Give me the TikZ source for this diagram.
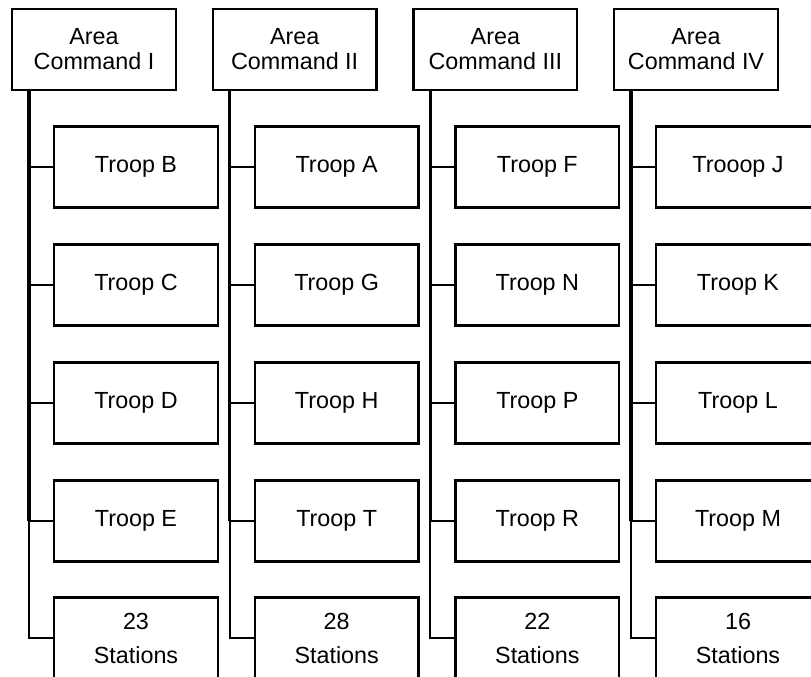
\documentclass[tikz,border=0pt]{standalone}
\usepackage{fontspec}
\setmainfont{Liberation Sans}
\usetikzlibrary{positioning,calc}

\tikzset{
  cmdbox/.style={draw, line width=1.8pt, minimum width=122.7pt, minimum height=60.5pt,
    inner sep=0pt, align=center, font=\fontsize{17.5}{18.75}\selectfont},
  troopbox/.style={cmdbox},
  stnbox/.style={cmdbox, font=\fontsize{17.5}{25.5}\selectfont},
  trunk/.style={line width=2.5pt},
  branch/.style={line width=1.5pt},
}

\begin{document}
\begin{tikzpicture}[x=0.75pt,y=-0.75pt]
  \clip (0,0) rectangle (811,677);
  \useasboundingbox (0,0) rectangle (811,677);

  % one column per area command
  \foreach \cmd/\ta/\tb/\tc/\td/\num [count=\i from 0] in {%
      I/Troop B/Troop C/Troop D/Troop E/23,
      II/Troop A/Troop G/Troop H/Troop T/28,
      III/Troop F/Troop N/Troop P/Troop R/22,
      IV/Trooop J/Troop K/Troop L/Troop M/16}{
    \node[cmdbox] (cmd\i) at (94+200.67*\i, 49.5) {Area\\Command \cmd};
    \foreach \tname [count=\k from 0] in {\ta,\tb,\tc,\td}
      \node[troopbox] (tr\i-\k) at (136+200.67*\i, 167+118*\k) {\tname};
    \node[stnbox] (st\i) at (136+200.67*\i, 638) {\num\\Stations};

    % trunk and branches
    \coordinate (tk\i) at ($(cmd\i.south west)+(18,0)$);
    \draw[trunk] (tk\i) -- (tk\i |- tr\i-3.west);
    \foreach \k in {0,...,3}
      \draw[branch] (tk\i |- tr\i-\k.west) -- (tr\i-\k.west);
    \draw[branch] (tk\i |- tr\i-3.west) |- (st\i.west);
  }
\end{tikzpicture}
\end{document}
